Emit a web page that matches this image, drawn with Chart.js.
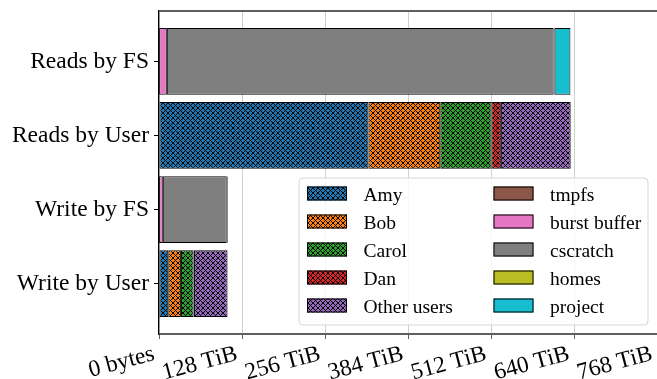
<!DOCTYPE html>
<html>
<head>
<meta charset="utf-8">
<script src="https://cdn.jsdelivr.net/npm/chart.js@4"></script>
<style>
  html, body { margin: 0; padding: 0; background: #ffffff; overflow: hidden; }
  #wrap { width: 657px; height: 379px; }
</style>
</head>
<body>
<div id="wrap"><canvas id="c" width="657" height="379"></canvas></div>
<script>
// Rows of the chart (top to bottom)
const categories = ['Reads by FS', 'Reads by User', 'Write by FS', 'Write by User'];

// X axis ticks (TiB) and their labels
const xTickValues = [0, 128, 256, 384, 512, 640, 768];
const xTickLabels = ['0 bytes', '128 TiB', '256 TiB', '384 TiB', '512 TiB', '640 TiB', '768 TiB'];

// Traffic per user in TiB: [reads, writes]
const userNames = ['Amy', 'Bob', 'Carol', 'Dan', 'Other users'];
const amy   = [323.0, 14.3];
const bob   = [110.8, 19.5];
const carol = [79.0, 19.6];
const dan   = [14.4, 0.5];
const other = [107.7, 51.8];

// Traffic per file system in TiB: [reads, writes]
const fsNames = ['tmpfs', 'burst buffer', 'cscratch', 'homes', 'project'];
const tmpfs       = [0.3, 0.2];
const burstBuffer = [11.8, 5.7];
const cscratch    = [596.4, 98.5];
const homes       = [1.5, 1.5];
const project     = [24.5, 0.2];

const userColors = ['#1f77b4', '#ff7f0e', '#2ca02c', '#d62728', '#9467bd'];
const fsColors = ['#8c564b', '#e377c2', '#7f7f7f', '#bcbd22', '#17becf'];

const FONT = "'Liberation Serif', 'Times New Roman', serif";

// Pixel-exact cross-hatch fill used for the per-user segments
function hatch(color) {
  const P = 5;
  const t = document.createElement('canvas');
  t.width = P; t.height = P;
  const g = t.getContext('2d');
  g.fillStyle = color;
  g.fillRect(0, 0, P, P);
  g.fillStyle = '#000';
  for (let y = 0; y < P; y++) {
    for (let x = 0; x < P; x++) {
      if ((x - y + P) % P === 0 || (x + y) % P === 0) g.fillRect(x, y, 1, 1);
    }
  }
  return document.getElementById('c').getContext('2d').createPattern(t, 'repeat');
}

const userSeries = [amy, bob, carol, dan, other];
const fsSeries = [tmpfs, burstBuffer, cscratch, homes, project];

const datasets = [];
userSeries.forEach((vals, i) => {
  datasets.push({
    label: userNames[i],
    data: [{ y: 1, x: vals[0] }, { y: 3, x: vals[1] }],
    backgroundColor: hatch(userColors[i])
  });
});
fsSeries.forEach((vals, i) => {
  datasets.push({
    label: fsNames[i],
    data: [{ y: 0, x: vals[0] }, { y: 2, x: vals[1] }],
    backgroundColor: fsColors[i]
  });
});
datasets.forEach(d => {
  d.borderColor = '#000000';
  d.borderWidth = 1;
  d.borderSkipped = false;
  d.barPercentage = 0.9;
  d.categoryPercentage = 1.0;
});

const SPINE = '#5e5e5e';

// Top frame line and the two-column legend box
const frameAndLegend = {
  id: 'frameAndLegend',
  afterDraw(chart) {
    const ctx = chart.ctx;
    const a = chart.chartArea;
    ctx.save();
    ctx.strokeStyle = SPINE;
    ctx.lineWidth = 2;
    ctx.beginPath();
    ctx.moveTo(a.left, a.top);
    ctx.lineTo(a.right, a.top);
    ctx.stroke();

    // legend frame
    const w = 349, h = 147;
    const lx = a.right - 9 - w, ly = a.bottom - 9 - h;
    const r = 4;
    ctx.beginPath();
    ctx.moveTo(lx + r, ly);
    ctx.arcTo(lx + w, ly, lx + w, ly + h, r);
    ctx.arcTo(lx + w, ly + h, lx, ly + h, r);
    ctx.arcTo(lx, ly + h, lx, ly, r);
    ctx.arcTo(lx, ly, lx + w, ly, r);
    ctx.closePath();
    ctx.fillStyle = 'rgba(255,255,255,0.8)';
    ctx.fill();
    ctx.strokeStyle = '#d6d6d6';
    ctx.lineWidth = 1;
    ctx.stroke();

    ctx.font = '19.5px ' + FONT;
    ctx.textBaseline = 'alphabetic';
    ctx.textAlign = 'left';
    const ds = chart.data.datasets;
    ds.forEach((d, i) => {
      const col = Math.floor(i / 5), row = i % 5;
      const sx = lx + 8 + col * 186.5;
      const cy = ly + 15.5 + row * 28;
      ctx.fillStyle = d.backgroundColor;
      ctx.fillRect(sx, cy - 7, 40, 14);
      ctx.strokeStyle = '#000';
      ctx.lineWidth = 1;
      ctx.strokeRect(sx + 0.5, cy - 6.5, 39, 13);
      ctx.fillStyle = '#000';
      ctx.fillText(d.label, sx + 56.5, cy + 7);
    });
    ctx.restore();
  }
};

new Chart(document.getElementById('c'), {
  type: 'bar',
  data: { datasets },
  options: {
    indexAxis: 'y',
    responsive: false,
    devicePixelRatio: 1,
    animation: false,
    layout: { padding: { top: 11, right: -1, bottom: 0, left: 0 } },
    plugins: {
      legend: { display: false },
      tooltip: { enabled: false }
    },
    scales: {
      x: {
        type: 'linear',
        stacked: true,
        min: 0,
        max: 768,
        afterBuildTicks(scale) { scale.ticks = xTickValues.map(v => ({ value: v })); },
        afterFit(scale) { scale.height = 45; scale.paddingLeft = 0; scale.paddingRight = 0; },
        ticks: {
          autoSkip: false,
          minRotation: 15,
          maxRotation: 15,
          padding: 1,
          labelOffset: -5,
          color: '#000',
          font: { family: FONT, size: 23.5 },
          callback(v) { return xTickLabels[xTickValues.indexOf(v)]; }
        },
        grid: { color: '#cfcfcf', lineWidth: 1, tickLength: 5, tickColor: SPINE },
        border: { color: SPINE, width: 2 }
      },
      y: {
        type: 'linear',
        stacked: true,
        reverse: true,
        offset: false,
        min: -0.68,
        max: 3.68,
        afterBuildTicks(scale) { scale.ticks = categories.map((c, i) => ({ value: i })); },
        afterFit(scale) { scale.width = 159; scale.paddingTop = 0; scale.paddingBottom = 0; },
        ticks: {
          padding: 5,
          color: '#000',
          font: { family: FONT, size: 23.5 },
          callback(v) { return categories[v]; }
        },
        grid: { offset: false, drawOnChartArea: false, tickLength: 5, color: '#000' },
        border: { color: '#000', width: 1.3 }
      }
    }
  },
  plugins: [frameAndLegend]
});
</script>
</body>
</html>
